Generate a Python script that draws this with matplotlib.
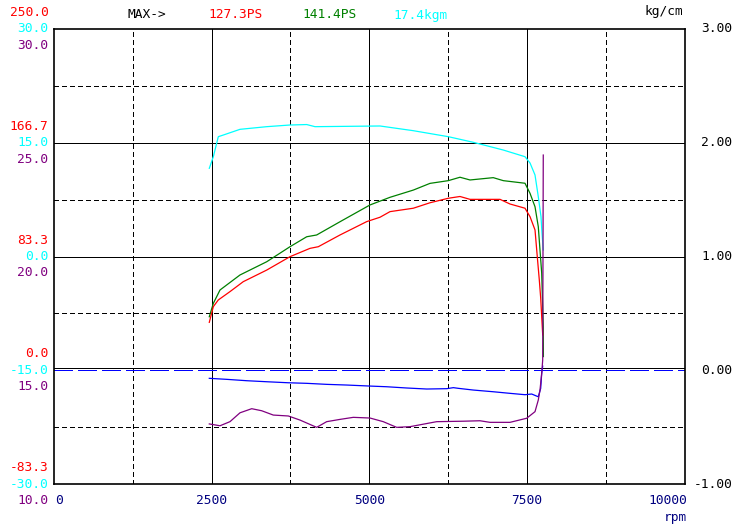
import matplotlib.pyplot as plt
from matplotlib.transforms import offset_copy

plt.rcParams['font.family'] = 'DejaVu Sans Mono'
plt.rcParams['lines.scale_dashes'] = False

# power (PS) - red
red_rpm = [2463, 2527, 2606, 2791, 3002, 3374, 3743, 4060, 4192, 4536, 4960, 5171, 5329,
           5699, 5963, 6254, 6439, 6598, 7074, 7232, 7470, 7550, 7629, 7665, 7697, 7719, 7751]
red_ps = [35.1, 46.6, 51.5, 57.6, 64.9, 73.4, 83.2, 89.3, 90.5, 99.1, 108.9, 112.1, 116.2,
          118.7, 122.7, 126.0, 127.3, 125.2, 125.2, 121.8, 118.7, 112.5, 102.8, 83.2, 66.2, 53.0, 25.9]

# second power curve (PS) - green
green_rpm = [2463, 2527, 2633, 2950, 3374, 3743, 4008, 4166, 4536, 5012, 5329, 5699, 5963,
             6254, 6439, 6598, 6967, 7126, 7470, 7550, 7629, 7681, 7708, 7735, 7760, 7762]
green_ps = [39.2, 49.0, 58.8, 69.8, 79.5, 90.5, 97.8, 99.1, 108.8, 121.1, 126.7, 132.0, 136.9,
            138.9, 141.4, 139.4, 141.1, 138.9, 137.0, 129.6, 119.8, 105.2, 88.1, 71.3, 32.0, 10.0]

# torque (kgm) - cyan
cyan_rpm = [2463, 2527, 2606, 2686, 2950, 3374, 3743, 4008, 4140, 5171, 5699, 6254, 6650,
            7126, 7470, 7550, 7629, 7681, 7724, 7740, 7760]
cyan_kgm = [11.63, 13.16, 15.80, 16.02, 16.77, 17.12, 17.34, 17.4, 17.12, 17.21, 16.59, 15.80,
            15.06, 14.04, 13.16, 12.33, 10.75, 7.89, 5.25, 3.06, 0.86]

# air/fuel ratio - purple
afr_rpm = [2463, 2633, 2791, 2950, 3136, 3294, 3478, 3716, 3902, 4166, 4325, 4536, 4747, 5012,
           5222, 5435, 5646, 6070, 6492, 6756, 6915, 7232, 7497, 7629, 7681, 7708, 7735, 7751, 7760]
afr = [12.64, 12.56, 12.74, 13.13, 13.31, 13.22, 13.03, 12.99, 12.81, 12.49, 12.74, 12.84, 12.93,
       12.90, 12.74, 12.49, 12.52, 12.74, 12.76, 12.78, 12.71, 12.71, 12.89, 13.18, 13.69, 14.13,
       14.86, 15.45, 24.46]

# boost (kg/cm) - blue
boost_rpm = [2463, 2740, 3057, 3374, 3716, 4008, 4325, 4642, 5012, 5277, 5594, 5912, 6229, 6334,
             6413, 6650, 6967, 7232, 7470, 7576, 7681, 7719, 7735, 7751]
boost = [-0.071, -0.080, -0.092, -0.101, -0.110, -0.115, -0.124, -0.130, -0.139, -0.145, -0.156,
         -0.165, -0.162, -0.153, -0.159, -0.174, -0.189, -0.203, -0.215, -0.209, -0.233, -0.160,
         -0.028, 0.036]

x_ticks = [0, 2500, 5000, 7500, 10000]
x_labels = ['0', '2500', '5000', '7500', '10000']
boost_ticks = [3.0, 2.0, 1.0, 0.0, -1.0]
boost_labels = ['3.00', '2.00', '1.00', '0.00', '-1.00']
ps_ticks = [250.0, 166.7, 83.3, 0.0, -83.3]
kgm_ticks = [30.0, 15.0, 0.0, -15.0, -30.0]
afr_ticks = [30.0, 25.0, 20.0, 15.0, 10.0]

RED, GREEN, CYAN, PURPLE, BLUE, NAVY = '#ff0000', '#008000', '#00ffff', '#800080', '#0000ff', '#000080'
fs = 9.3

fig = plt.figure(figsize=(7.49, 5.28), dpi=100)
rect = [54 / 749, 44 / 528, 630.5 / 749, 455 / 528]
ax = fig.add_axes(rect)
ax.set_xlim(0, 10000)
ax.set_ylim(-1, 3)
ax.set_xticks([])
ax.set_yticks([])
for s in ax.spines.values():
    s.set_linewidth(1.2)

# grid
dash = (0, (2.9, 2.2))
for v in [1250, 3750, 6250, 8750]:
    ax.axvline(v, color='black', lw=0.72, ls=dash, antialiased=False)
for v in [2500, 5000, 7500]:
    ax.axvline(v, color='black', lw=0.72, antialiased=False)
for v in [2.5, 1.5, 0.5, -0.5]:
    ax.axhline(v, color='black', lw=0.72, ls=dash, antialiased=False)
for v in [2.0, 1.0]:
    ax.axhline(v, color='black', lw=0.72, antialiased=False)
# black zero grid sits a couple of pixels above the blue zero-boost line
ax.plot([0, 1], [0.0, 0.0], color='black', lw=0.72, antialiased=False,
        transform=offset_copy(ax.get_yaxis_transform(), fig=fig, y=2, units='dots'))
ax.axhline(0.0, color=BLUE, lw=0.9, ls=(0, (13, 4.3)), antialiased=False)

ax_ps = fig.add_axes(rect, frameon=False)
ax_ps.set_xlim(0, 10000)
ax_ps.set_ylim(-250 / 3, 250)
ax_kgm = fig.add_axes(rect, frameon=False)
ax_kgm.set_xlim(0, 10000)
ax_kgm.set_ylim(-30, 30)
ax_afr = fig.add_axes(rect, frameon=False)
ax_afr.set_xlim(0, 10000)
ax_afr.set_ylim(10, 30)
for a in (ax_ps, ax_kgm, ax_afr):
    a.set_xticks([])
    a.set_yticks([])

ax.plot(boost_rpm, boost, color=BLUE, lw=0.9)
ax_afr.plot(afr_rpm, afr, color=PURPLE, lw=0.9)
ax_kgm.plot(cyan_rpm, cyan_kgm, color=CYAN, lw=0.9)
ax_ps.plot(green_rpm, green_ps, color=GREEN, lw=0.9)
ax_ps.plot(red_rpm, red_ps, color=RED, lw=0.9)

# left labels, three stacked scales
lx = -5.5 / 630.5
for a, ticks, col, dy in [(ax_ps, ps_ticks, RED, 16.5), (ax_kgm, kgm_ticks, CYAN, 0),
                          (ax_afr, afr_ticks, PURPLE, -16.5)]:
    tr = offset_copy(a.get_yaxis_transform(), fig=fig, y=dy, units='dots')
    for t in ticks:
        a.text(lx, t, f'{t:.1f}', transform=tr, color=col, fontsize=fs,
               ha='right', va='center')

# right labels
for t, lab in zip(boost_ticks, boost_labels):
    ax.text(1 + 47.5 / 630.5, t, lab, transform=ax.get_yaxis_transform(),
            fontsize=fs, ha='right', va='center')
ax.text(1 - 1.5 / 630.5, 1 + 17 / 455, 'kg/cm', transform=ax.transAxes,
        fontsize=fs, ha='right', va='center')

# x labels
for t, lab in zip(x_ticks, x_labels):
    ha = 'left' if t == 0 else ('right' if t == 10000 else 'center')
    xt = t + (15 if t == 0 else 0) + (50 if t == 10000 else 0)
    ax.text(xt, -16 / 455, lab, transform=ax.get_xaxis_transform(),
            color=NAVY, fontsize=fs, ha=ha, va='center')
ax.text(1 + 2 / 630.5, -34 / 455, 'rpm', transform=ax.transAxes,
        color=NAVY, fontsize=fs, ha='right', va='center')

# max values header
top = 1 + 14 / 455
for x0, txt, col in [(128, 'MAX->', 'black'), (208, f'{max(red_ps):.1f}PS', RED),
                     (302, f'{max(green_ps):.1f}PS', GREEN), (393, f'{max(cyan_kgm):.1f}kgm', CYAN)]:
    ax.text((x0 - 54) / 630.5, top, txt, transform=ax.transAxes, color=col,
            fontsize=fs, ha='left', va='center')

fig.savefig('out.png', dpi=100)
